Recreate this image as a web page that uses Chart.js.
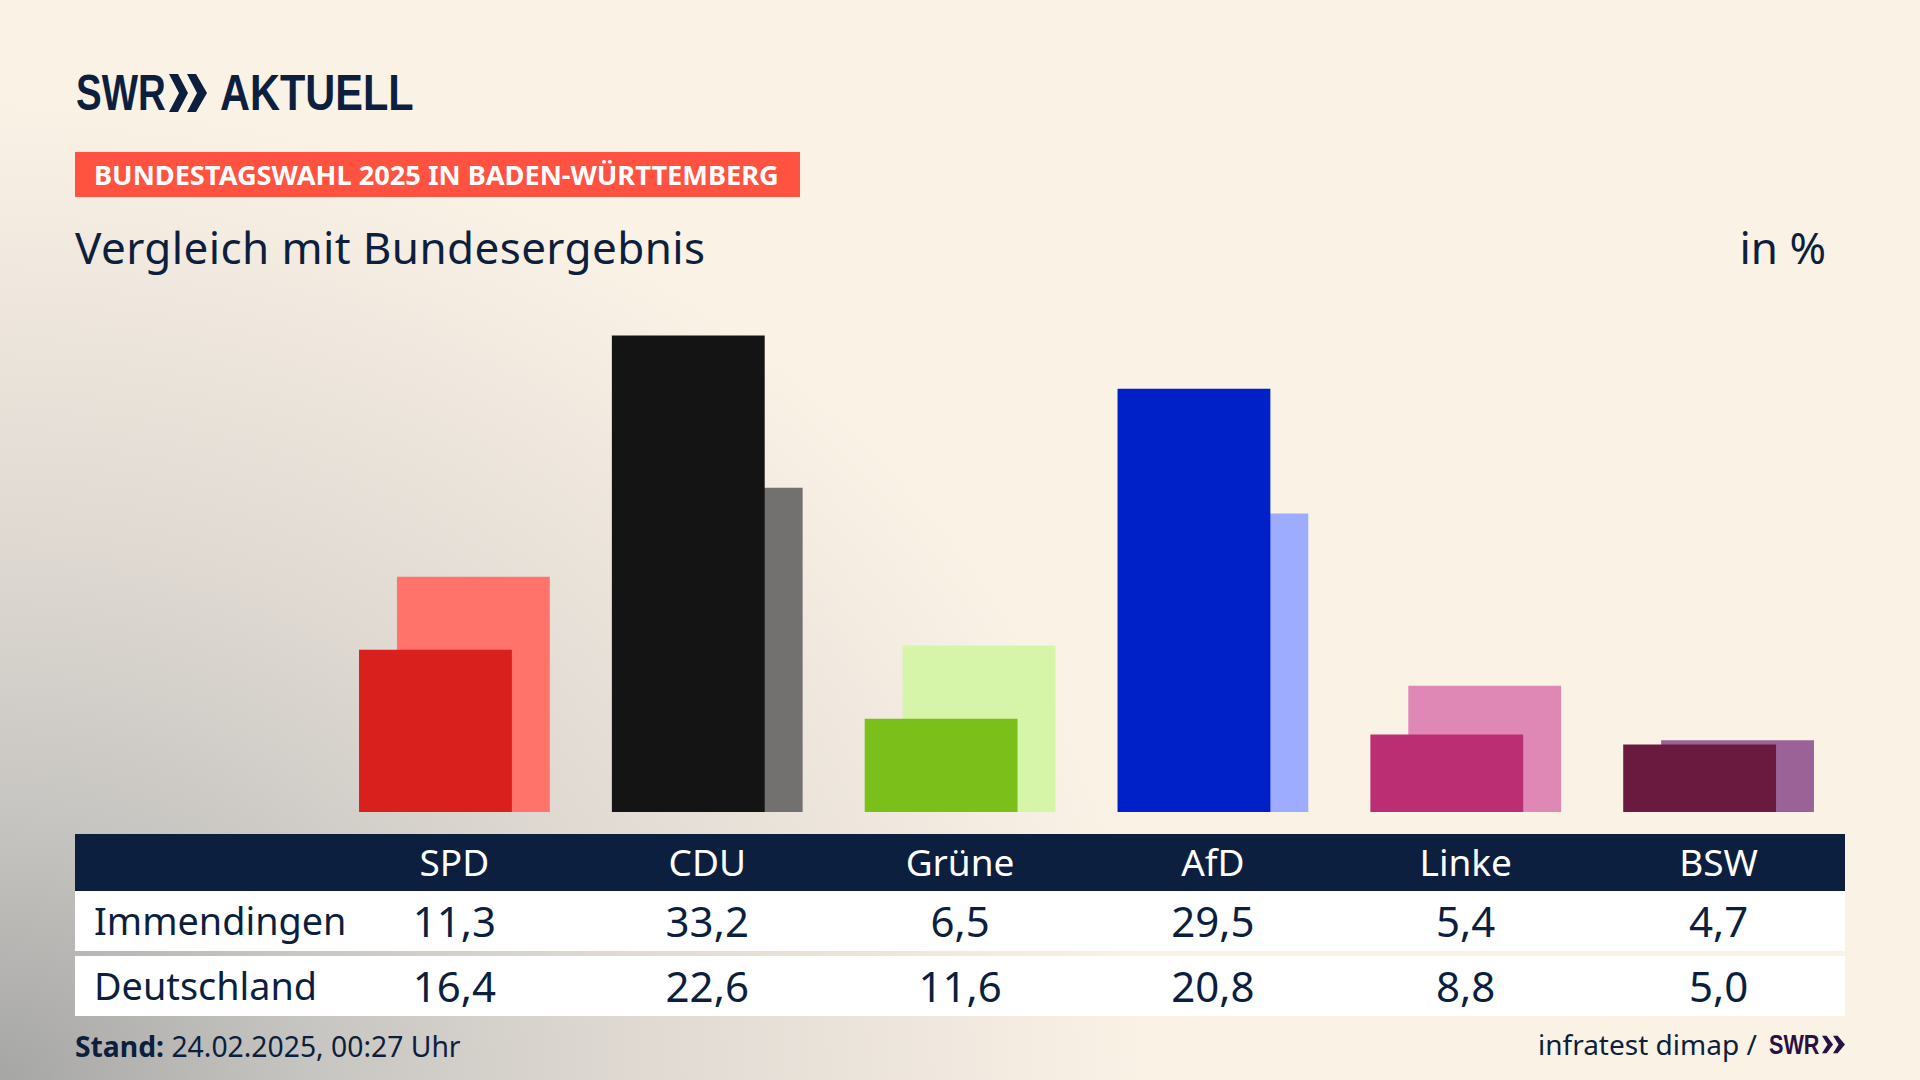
<!DOCTYPE html>
<html lang="de">
<head>
<meta charset="utf-8">
<title>Vergleich mit Bundesergebnis</title>
<script src="https://cdn.jsdelivr.net/npm/chart.js@4"></script>
<style>
  html, body { margin: 0; padding: 0; }
  body {
    position: relative; width: 1920px; height: 1080px; overflow: hidden;
    font-family: "Noto Sans", sans-serif; color: #0c1f3f;
    background:
      radial-gradient(ellipse 1150px 980px at 0 1080px, #a6a6a5 0%, #c8c6c2 28%, #dfd9d2 55%, rgba(251,242,230,0) 100%),
      #fbf2e6;
  }
  .abs { position: absolute; white-space: nowrap; }
  #logo { left: 76px; top: 63px; font: bold 50px/60px "Liberation Sans", sans-serif; transform: scaleX(0.77); transform-origin: left; }
  #aktuell { left: 220px; top: 63px; font: bold 50px/60px "Liberation Sans", sans-serif; transform: scaleX(0.83); transform-origin: left; }
  #chev { left: 169px; top: 74px; }
  #kicker { left: 75px; top: 152px; width: 725px; height: 45px; background: #ff5240; color: #fff;
    font-weight: 700; font-size: 27.2px; line-height: 45px; padding-left: 19px; box-sizing: border-box; }
  #title { left: 75px; top: 217px; font-size: 44px; line-height: 60px; letter-spacing: 0.4px; }
  #unit { right: 94px; top: 217px; font-size: 44px; line-height: 60px; }
  #plot { position: absolute; left: 328px; top: 238px; width: 1517px; height: 574px; }
  table { position: absolute; left: 75px; top: 834px; width: 1770px; border-collapse: collapse; table-layout: fixed; }
  th, td { padding: 0 0 2px; text-align: center; font-weight: 400; }
  th { background: #0c1f3f; color: #fff; height: 55px; font-size: 37px; }
  td { background: #fff; height: 58px; font-size: 42px; }
  td.name, th.name { width: 253px; text-align: left; padding-left: 19px; box-sizing: border-box; height: 60px; font-size: 37.8px; }
  th.name { height: 57px; }
  tr.gap td { background: transparent; height: 5px; padding: 0; font-size: 0; }
  #stand { left: 75px; top: 1027px; font-size: 28.3px; line-height: 38px; }
  #source { left: 1538px; top: 1025px; font-size: 28px; line-height: 38px; }
  #swr2 { left: 1769px; top: 1027px; font: bold 27px/36px "Liberation Sans", sans-serif; color: #2a1143; transform: scaleX(0.8); transform-origin: left; }
  #chev2 { left: 1822px; top: 1035px; }
</style>
</head>
<body>
<div class="abs" id="logo">SWR</div>
<svg class="abs" id="chev" width="38" height="38" viewBox="0 0 38 38" fill="#0c1f3f"><polygon points="0,0 9,0 19,19 9,38 0,38 10,19"/><polygon points="18,0 27,0 38,19 27,38 18,38 28,19"/></svg>
<div class="abs" id="aktuell">AKTUELL</div>
<div class="abs" id="kicker">BUNDESTAGSWAHL 2025 IN BADEN-WÜRTTEMBERG</div>
<div class="abs" id="title">Vergleich mit Bundesergebnis</div>
<div class="abs" id="unit">in %</div>
<div id="plot"><canvas id="chart" width="1517" height="574"></canvas></div>
<table id="results"></table>
<div class="abs" id="stand"><b>Stand:</b> 24.02.2025, 00:27 Uhr</div>
<div class="abs" id="source">infratest dimap /</div>
<div class="abs" id="swr2">SWR</div>
<svg class="abs" id="chev2" width="23" height="19" viewBox="0 0 25 19" fill="#2a1143"><polygon points="0,0 5,0 12,9.5 5,19 0,19 6,9.5"/><polygon points="12,0 17,0 25,9.5 17,19 12,19 18,9.5"/></svg>
<script>
const parties = ['SPD', 'CDU', 'Grüne', 'AfD', 'Linke', 'BSW'];
const immendingen = [11.3, 33.2, 6.5, 29.5, 5.4, 4.7];
const deutschland = [16.4, 22.6, 11.6, 20.8, 8.8, 5.0];
const frontColors = ['#d9201c', '#141414', '#7abf1a', '#0020c8', '#bb2e73', '#6a1a3f'];
const backColors = ['#ff736b', '#72716f', '#d7f5a8', '#9dacff', '#df88b6', '#9b6298'];

const fmt = (v) => v.toFixed(1).replace('.', ',');

// table under the bars
const row = (name, values) =>
    `<tr><td class="name">${name}</td>${values.map(v => `<td>${fmt(v)}</td>`).join('')}</tr>`;
document.getElementById('results').innerHTML =
    `<tr><th class="name"></th>${parties.map(p => `<th>${p}</th>`).join('')}</tr>` +
    row('Immendingen', immendingen) +
    `<tr class="gap"><td colspan="7"></td></tr>` +
    row('Deutschland', deutschland);

// barPercentage above 1 makes the two bars of a group overlap
new Chart(document.getElementById('chart'), {
    type: 'bar',
    data: {
        labels: parties,
        datasets: [
            { label: 'Immendingen', data: immendingen, backgroundColor: frontColors },
            { label: 'Deutschland', data: deutschland, backgroundColor: backColors }
        ]
    },
    options: {
        responsive: false,
        animation: false,
        categoryPercentage: 0.3,
        barPercentage: 4.03,
        plugins: { legend: { display: false }, tooltip: { enabled: false } },
        scales: {
            x: { display: false },
            y: { display: false, min: 0, max: 40 }
        }
    }
});
</script>
</body>
</html>
